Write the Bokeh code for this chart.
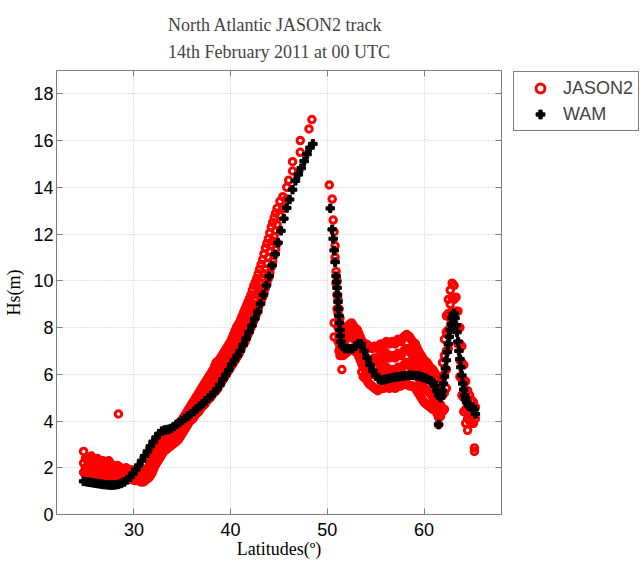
from bokeh.plotting import figure
from bokeh.layouts import row
from bokeh.models import Range1d, LinearAxis, Legend, LegendItem, FixedTicker
from bokeh.embed import file_html
from bokeh.resources import INLINE

TITLE = "North Atlantic JASON2 track\n14th February 2011 at 00 UTC"
X_LABEL = "Latitudes(º)"
Y_LABEL = "Hs(m)"
X_TICKS = [30, 40, 50, 60]
Y_TICKS = [0, 2, 4, 6, 8, 10, 12, 14, 16, 18]
SERIES = ["JASON2", "WAM"]

# WAM model track (black)
wam_lat = [24.8, 25.1, 25.4, 25.7, 26.0, 26.3, 26.6, 26.9, 27.2, 27.5,
           27.8, 28.1, 28.4, 28.7, 29.0, 29.3, 29.6, 29.9, 30.2, 30.5,
           30.8, 31.1, 31.4, 31.7, 32.0, 32.3, 32.6, 32.9, 33.2, 33.5,
           33.8, 34.1, 34.4, 34.7, 35.0, 35.3, 35.6, 35.9, 36.2, 36.5,
           36.8, 37.1, 37.4, 37.7, 38.0, 38.3, 38.6, 38.9, 39.2, 39.5,
           39.8, 40.1, 40.4, 40.7, 41.0, 41.3, 41.6, 41.9, 42.2, 42.5,
           42.8, 43.1, 43.4, 43.7, 44.0, 44.3, 44.6, 44.9, 45.2, 45.5,
           45.8, 46.1, 46.4, 46.7, 47.0, 47.3, 47.6, 47.9, 48.2, 48.5,
           50.3, 50.5, 50.6, 50.7, 50.8, 50.9, 50.95, 51.0, 51.05, 51.1,
           51.15, 51.2, 51.25, 51.3, 51.35, 51.4, 51.6, 51.8, 52.0, 52.3,
           52.6, 52.9, 53.2, 53.5, 53.8, 54.1, 54.4, 54.7, 55.0, 55.3,
           55.6, 55.9, 56.2, 56.5, 56.8, 57.1, 57.4, 57.7, 58.0, 58.3,
           58.6, 58.9, 59.2, 59.5, 59.8, 60.1, 60.4, 60.7, 60.9, 61.1,
           61.3, 61.5, 61.7, 61.8, 61.9, 62.0, 62.1, 62.2, 62.3, 62.4,
           62.5, 62.6, 62.7, 62.8, 62.9, 63.0, 63.1, 63.2, 63.3, 63.4,
           63.5, 63.6, 63.7, 63.8, 63.9, 64.0, 64.1, 64.2, 64.3, 64.4,
           64.6, 64.8, 65.0, 65.2, 65.3, 61.5]
wam_hs = [1.42, 1.40, 1.38, 1.36, 1.34, 1.32, 1.30, 1.28, 1.27, 1.26,
          1.26, 1.27, 1.29, 1.33, 1.39, 1.48, 1.60, 1.75, 1.92, 2.10,
          2.30, 2.50, 2.70, 2.92, 3.12, 3.30, 3.46, 3.57, 3.62, 3.64,
          3.68, 3.76, 3.85, 3.94, 4.03, 4.12, 4.21, 4.31, 4.41, 4.52,
          4.63, 4.74, 4.85, 4.97, 5.09, 5.22, 5.36, 5.55, 5.78, 5.98,
          6.18, 6.42, 6.61, 6.80, 7.00, 7.26, 7.53, 7.80, 8.08, 8.38,
          8.68, 9.02, 9.40, 9.80, 10.20, 10.66, 11.14, 11.63, 12.14, 12.66,
          13.12, 13.48, 13.90, 14.28, 14.55, 14.82, 15.12, 15.42, 15.70, 15.86,
          13.1, 12.2, 11.8, 11.3, 10.8, 10.2, 9.95, 9.7, 9.4, 9.1,
          8.8, 8.5, 8.2, 7.9, 7.65, 7.4, 7.2, 7.1, 7.1, 7.1,
          7.1, 7.2, 7.3, 7.3, 7.0, 6.7, 6.4, 6.15, 5.95, 5.8,
          5.75, 5.77, 5.8, 5.83, 5.86, 5.88, 5.9, 5.92, 5.94, 5.95,
          5.96, 5.95, 5.94, 5.92, 5.88, 5.84, 5.78, 5.72, 5.65, 5.5,
          5.3, 5.1, 5.0, 5.1, 5.3, 5.6, 5.9, 6.25, 6.6, 6.95,
          7.3, 7.6, 7.9, 8.15, 8.4, 8.55, 8.6, 8.4, 8.1, 7.8,
          7.4, 7.0, 6.65, 6.3, 5.95, 5.6, 5.35, 5.1, 4.95, 4.8,
          4.65, 4.6, 4.6, 4.5, 4.3, 3.85]

# JASON2 altimeter track (red): each row is a latitude followed by its Hs readings
jason_rows = [
    (24.8, 2.7, 2.2, 1.8), (25.0, 2.4, 2.0, 1.7), (25.15, 2.35, 1.95, 1.65),
    (25.3, 2.3, 1.9, 1.6), (25.45, 2.4, 2.0, 1.65), (25.6, 2.5, 2.1, 1.7),
    (25.75, 2.4, 2.0, 1.65), (25.9, 2.3, 1.9, 1.6), (26.05, 2.35, 1.95, 1.65),
    (26.2, 2.4, 2.0, 1.7), (26.35, 2.3, 1.9, 1.65), (26.5, 2.2, 1.8, 1.6),
    (26.65, 2.25, 1.85, 1.6), (26.8, 2.3, 1.9, 1.6), (26.95, 2.25, 1.85, 1.6),
    (27.1, 2.2, 1.8, 1.6), (27.25, 2.25, 1.85, 1.6), (27.4, 2.3, 1.9, 1.6),
    (27.55, 2.2, 1.85, 1.6), (27.7, 2.1, 1.8, 1.6), (27.85, 2.05, 1.8, 1.6),
    (28.0, 2.0, 1.8, 1.6), (28.15, 2.05, 1.8, 1.6), (28.3, 2.1, 1.8, 1.6),
    (28.4, 4.3), (28.45, 2.05, 1.8, 1.6), (28.6, 2.0, 1.8, 1.6),
    (28.75, 1.95, 1.75, 1.55), (28.9, 1.9, 1.7, 1.5), (29.05, 1.95, 1.75, 1.55),
    (29.2, 2.0, 1.8, 1.6), (29.35, 1.95, 1.75, 1.55), (29.5, 1.9, 1.7, 1.5),
    (29.65, 1.9, 1.7, 1.5), (29.8, 1.9, 1.7, 1.5), (29.95, 1.85, 1.65, 1.5),
    (30.1, 1.8, 1.6, 1.45), (30.25, 1.85, 1.65, 1.5), (30.4, 1.9, 1.7, 1.5),
    (30.55, 1.85, 1.65, 1.45), (30.7, 1.8, 1.6, 1.4), (30.85, 1.8, 1.6, 1.4),
    (31.0, 1.8, 1.6, 1.4), (31.15, 1.85, 1.65, 1.45), (31.3, 1.9, 1.7, 1.5),
    (31.45, 2.0, 1.75, 1.55), (31.6, 2.1, 1.8, 1.6), (31.75, 2.25, 1.95, 1.7),
    (31.9, 2.4, 2.1, 1.8), (32.05, 2.55, 2.25, 1.95), (32.2, 2.7, 2.4, 2.1),
    (32.35, 2.8, 2.5, 2.2), (32.5, 2.9, 2.6, 2.3), (32.65, 3.0, 2.7, 2.4),
    (32.8, 3.1, 2.8, 2.5), (32.95, 3.2, 2.9, 2.6), (33.1, 3.3, 3.0, 2.7),
    (33.25, 3.35, 3.05, 2.75), (33.4, 3.4, 3.1, 2.8), (33.55, 3.45, 3.15, 2.85),
    (33.7, 3.5, 3.2, 2.9), (33.85, 3.55, 3.25, 2.95), (34.0, 3.6, 3.3, 3.0),
    (34.15, 3.65, 3.35, 3.05), (34.3, 3.7, 3.4, 3.1), (34.45, 3.8, 3.45, 3.15),
    (34.6, 3.9, 3.5, 3.2), (34.75, 3.95, 3.6, 3.3), (34.9, 4.0, 3.7, 3.4),
    (35.05, 4.1, 3.8, 3.5), (35.2, 4.2, 3.9, 3.6), (35.35, 4.3, 4.0, 3.7),
    (35.5, 4.4, 4.1, 3.8), (35.65, 4.5, 4.2, 3.9),
    (35.8, 4.6, 4.3, 4.0), (35.95, 4.7, 4.4, 4.05), (36.1, 4.8, 4.5, 4.1),
    (36.25, 4.9, 4.55, 4.2), (36.4, 5.0, 4.6, 4.3), (36.55, 5.1, 4.7, 4.35),
    (36.7, 5.2, 4.8, 4.4), (36.85, 5.3, 4.9, 4.5), (37.0, 5.4, 5.0, 4.6),
    (37.15, 5.5, 5.05, 4.65), (37.3, 5.6, 5.1, 4.7), (37.45, 5.7, 5.2, 4.8),
    (37.6, 5.8, 5.3, 4.9), (37.75, 5.9, 5.4, 4.95), (37.9, 6.0, 5.5, 5.0),
    (38.05, 6.1, 5.6, 5.1), (38.2, 6.2, 5.7, 5.2), (38.35, 6.35, 5.8, 5.25),
    (38.5, 6.5, 5.9, 5.3), (38.65, 6.55, 6.0, 5.4), (38.8, 6.6, 6.1, 5.5),
    (38.95, 6.7, 6.15, 5.6), (39.1, 6.8, 6.2, 5.7), (39.25, 6.9, 6.3, 5.8),
    (39.4, 7.0, 6.4, 5.9), (39.55, 7.1, 6.5, 6.0), (39.7, 7.2, 6.6, 6.1),
    (39.85, 7.3, 6.75, 6.2), (40.0, 7.4, 6.9, 6.3), (40.15, 7.55, 7.0, 6.4),
    (40.3, 7.7, 7.1, 6.5), (40.45, 7.85, 7.2, 6.6), (40.6, 8.0, 7.3, 6.7),
    (40.75, 8.1, 7.45, 6.8), (40.9, 8.2, 7.6, 6.9), (41.05, 8.35, 7.7, 7.05),
    (41.2, 8.5, 7.8, 7.2), (41.35, 8.65, 7.95, 7.3), (41.5, 8.8, 8.1, 7.4),
    (41.65, 8.95, 8.25, 7.55), (41.8, 9.1, 8.4, 7.7), (41.95, 9.25, 8.55, 7.85),
    (42.1, 9.4, 8.7, 8.0), (42.25, 9.6, 8.85, 8.15), (42.4, 9.8, 9.0, 8.3),
    (42.55, 9.95, 9.2, 8.45), (42.7, 10.1, 9.4, 8.6), (42.85, 10.3, 9.55, 8.8),
    (43.0, 10.5, 9.7, 9.0), (43.15, 10.7, 9.9, 9.15), (43.3, 10.9, 10.1, 9.3),
    (43.45, 11.15, 10.3, 9.5), (43.6, 11.4, 10.5, 9.7), (43.75, 11.6, 10.75, 9.9),
    (43.9, 11.8, 11.0, 10.1), (44.05, 12.05, 11.25, 10.35), (44.2, 12.3, 11.5, 10.6),
    (44.35, 12.5, 11.7, 10.85), (44.5, 12.7, 11.9, 11.1), (44.65, 12.9, 12.15, 11.35),
    (44.8, 13.1, 12.4, 11.6), (45.1, 13.4, 12.8), (45.4, 13.6, 13.1),
    (45.8, 14.0, 13.5), (46.0, 14.3), (46.4, 15.1, 14.7), (47.2, 16.0, 15.5),
    (48.1, 16.5), (48.4, 16.9),
    (50.2, 14.1), (50.5, 13.5), (50.6, 12.6), (50.7, 12.1, 8.2, 7.6),
    (50.8, 11.5, 11.0), (50.9, 10.4, 9.9), (51.0, 10.0, 9.4, 8.8),
    (51.1, 9.2, 8.6, 8.0, 7.4), (51.2, 8.8, 8.2, 7.6, 7.0),
    (51.3, 8.4, 7.8, 7.2, 6.8), (51.4, 8.0, 7.4, 6.9), (51.5, 6.2),
    (51.6, 7.8, 7.3, 6.8), (51.75, 7.9, 7.4, 6.85), (51.9, 8.0, 7.5, 6.9),
    (52.05, 8.05, 7.55, 6.95), (52.2, 8.1, 7.6, 7.0), (52.35, 8.15, 7.65, 7.05),
    (52.5, 8.2, 7.7, 7.1), (52.65, 8.1, 7.6, 7.05), (52.8, 8.0, 7.5, 7.0),
    (52.95, 7.95, 7.45, 6.95), (53.1, 7.9, 7.4, 6.9), (53.25, 7.75, 7.3, 6.75),
    (53.4, 7.6, 7.2, 6.6), (53.55, 7.45, 7.0, 6.45, 6.1), (53.7, 7.3, 6.8, 6.3, 5.9),
    (53.85, 7.3, 6.75, 6.25, 5.85), (54.0, 7.3, 6.7, 6.2, 5.8), (54.15, 7.25, 6.65, 6.15, 5.7),
    (54.3, 7.2, 6.6, 6.1, 5.6), (54.45, 7.15, 6.6, 6.05, 5.55), (54.6, 7.1, 6.6, 6.0, 5.5),
    (54.75, 7.15, 6.65, 6.05, 5.45), (54.9, 7.2, 6.7, 6.1, 5.4), (55.05, 7.15, 6.6, 6.0, 5.35),
    (55.2, 7.1, 6.5, 5.9, 5.3), (55.35, 7.2, 6.65, 6.05, 5.35), (55.5, 7.3, 6.8, 6.2, 5.4),
    (55.65, 7.25, 6.7, 6.1, 5.4), (55.8, 7.2, 6.6, 6.0, 5.4), (55.95, 7.3, 6.75, 6.15, 5.45),
    (56.1, 7.4, 6.9, 6.3, 5.5), (56.25, 7.35, 6.8, 6.2, 5.45), (56.4, 7.3, 6.7, 6.1, 5.4),
    (56.55, 7.35, 6.75, 6.15, 5.45), (56.7, 7.4, 6.8, 6.2, 5.5), (56.85, 7.35, 6.75, 6.15, 5.45),
    (57.0, 7.3, 6.7, 6.1, 5.4), (57.15, 7.4, 6.8, 6.2, 5.45), (57.3, 7.5, 6.9, 6.3, 5.5),
    (57.45, 7.45, 6.85, 6.25, 5.5), (57.6, 7.4, 6.8, 6.2, 5.5), (57.75, 7.5, 6.9, 6.3, 5.55),
    (57.9, 7.6, 7.0, 6.4, 5.6), (58.05, 7.65, 7.05, 6.45, 5.6), (58.2, 7.7, 7.1, 6.5, 5.6),
    (58.35, 7.65, 7.05, 6.45, 5.55), (58.5, 7.6, 7.0, 6.4, 5.5), (58.65, 7.5, 6.9, 6.3, 5.5),
    (58.8, 7.4, 6.8, 6.2, 5.5), (58.95, 7.35, 6.75, 6.1, 5.45), (59.1, 7.3, 6.7, 6.0, 5.4),
    (59.25, 7.15, 6.6, 5.95, 5.3), (59.4, 7.0, 6.5, 5.9, 5.2), (59.55, 6.9, 6.35, 5.75, 5.1),
    (59.7, 6.8, 6.2, 5.6, 5.0), (59.85, 6.7, 6.1, 5.5, 4.9), (60.0, 6.6, 6.0, 5.4, 4.8),
    (60.15, 6.55, 5.95, 5.35, 4.75), (60.3, 6.5, 5.9, 5.3, 4.7), (60.45, 6.4, 5.85, 5.25, 4.65),
    (60.6, 6.3, 5.8, 5.2, 4.6), (60.75, 6.25, 5.7, 5.1, 4.55), (60.9, 6.2, 5.6, 5.0, 4.5),
    (61.05, 6.1, 5.5, 4.95, 4.5), (61.2, 6.0, 5.4, 4.9, 4.5), (61.35, 5.8, 5.2, 4.75, 4.3),
    (61.5, 5.6, 5.0, 4.6, 4.15, 3.85),
    (61.7, 5.9, 5.3, 4.7, 4.2), (61.9, 6.5, 5.8, 5.1, 4.4), (62.1, 7.5, 6.8, 6.0, 5.2, 4.5),
    (62.3, 8.5, 7.8, 7.0, 6.2, 5.4), (62.5, 9.2, 8.6, 7.9, 7.1), (62.7, 9.6, 9.0, 8.4),
    (62.9, 9.9, 9.3, 8.7), (63.1, 9.8, 9.2, 8.6), (63.3, 9.3, 8.7, 8.0),
    (63.5, 8.7, 8.0, 7.3), (63.7, 8.0, 7.3, 6.6, 5.9), (63.9, 7.2, 6.5, 5.8, 5.1),
    (64.1, 6.4, 5.7, 5.0, 4.4), (64.3, 5.7, 5.1, 4.5, 3.9), (64.5, 5.3, 4.7, 4.1, 3.6),
    (64.7, 5.1, 4.5, 4.0), (64.9, 4.9, 4.4, 3.9), (65.1, 4.8, 4.3, 3.9),
    (65.3, 4.6, 4.1), (65.2, 2.85, 2.7),
]

jason_lat = [row_[0] for row_ in jason_rows for _ in row_[1:]]
jason_hs = [v for row_ in jason_rows for v in row_[1:]]

GRAY = "#7f7f7f"
RED_STYLE = dict(marker="circle", size=6.5, line_color="#ff0000", line_width=3, fill_alpha=0)
BLACK_STYLE = dict(marker="plus", size=8.5, color="black")

# ---------------- main plot ----------------
p = figure(frame_width=445, frame_height=444, x_range=Range1d(22, 68), y_range=Range1d(0, 19),
           output_backend="svg", toolbar_location=None, title=TITLE,
           min_border_left=56, min_border_right=10, min_border_top=70, min_border_bottom=48)
p.background_fill_color = "white"
p.border_fill_color = "white"
p.outline_line_color = GRAY
p.outline_line_width = 1

p.title.text_font = "Liberation Serif"
p.title.text_font_size = "18px"
p.title.text_font_style = "normal"
p.title.align = "center"
p.title.text_line_height = 1.35
p.title.standoff = 17

p.scatter(jason_lat, jason_hs, **RED_STYLE)
p.scatter(wam_lat, wam_hs, **BLACK_STYLE)

p.xaxis.ticker = FixedTicker(ticks=X_TICKS)
p.yaxis.ticker = FixedTicker(ticks=Y_TICKS)
p.xaxis.axis_label = X_LABEL
p.yaxis.axis_label = Y_LABEL
for ax in [p.xaxis[0], p.yaxis[0]]:
    ax.axis_line_color = GRAY
    ax.major_tick_line_color = GRAY
    ax.major_tick_in = 6
    ax.major_tick_out = 0
    ax.minor_tick_line_color = None
    ax.major_label_text_font = "Liberation Sans"
    ax.major_label_text_font_size = "18px"
    ax.major_label_text_color = "black"
    ax.axis_label_text_font = "Liberation Serif"
    ax.axis_label_text_font_size = "18px"
    ax.axis_label_text_font_style = "normal"
    ax.axis_label_text_color = "black"
p.xaxis.major_label_standoff = 8
p.xaxis.axis_label_standoff = 0
p.yaxis.major_label_standoff = 3
p.yaxis.axis_label_standoff = 6

for ticks, side in [(X_TICKS, "above"), (Y_TICKS, "right")]:
    extra = LinearAxis(ticker=FixedTicker(ticks=ticks), major_tick_in=6, major_tick_out=0,
                       minor_tick_line_color=None, axis_line_color=GRAY,
                       major_tick_line_color=GRAY, major_label_text_font_size="0px",
                       major_label_text_color=None, major_label_standoff=0)
    p.add_layout(extra, side)

p.grid.grid_line_color = "#c4c4c4"
p.grid.grid_line_dash = "1 2"

# ---------------- legend panel (to the right of the plot) ----------------
# Its frame is aligned with the main plot's frame; the same series are plotted
# there but fall outside its ranges, so only the legend entries are visible.
lf = figure(width=132, height=562, x_range=Range1d(-2, -1), y_range=Range1d(-2, -1),
            output_backend="svg", toolbar_location=None,
            x_axis_location=None, y_axis_location=None, min_border=0)
lf.grid.visible = False
lf.outline_line_color = None
lf.background_fill_color = "white"
lf.border_fill_color = "white"
lr_j = lf.scatter(jason_lat, jason_hs, **RED_STYLE)
lr_w = lf.scatter(wam_lat, wam_hs, **BLACK_STYLE)

legend = Legend(items=[LegendItem(label=SERIES[0], renderers=[lr_j]),
                       LegendItem(label=SERIES[1], renderers=[lr_w])],
                location=(2, 383), padding=5, spacing=4, glyph_width=42, glyph_height=22,
                label_height=22, label_standoff=2, label_text_font="Liberation Sans",
                label_text_font_size="18px", border_line_color="black", border_line_width=1,
                background_fill_color="white", background_fill_alpha=1, margin=0)
lf.add_layout(legend)

layout = row(p, lf)
open("out.html", "w").write(file_html(layout, INLINE))
